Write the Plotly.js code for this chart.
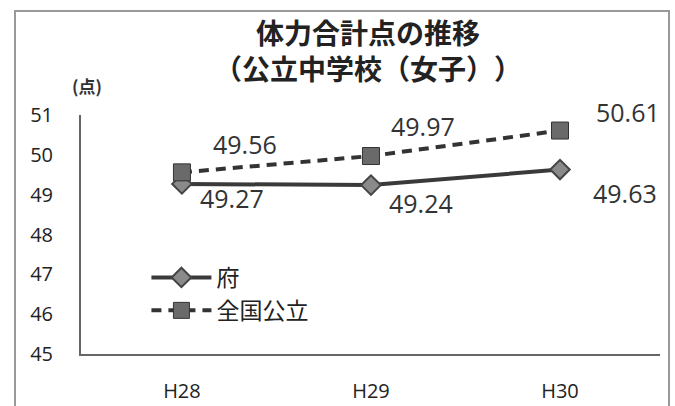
<!DOCTYPE html>
<html><head><meta charset="utf-8">
<script src="https://cdn.plot.ly/plotly-3.0.1.min.js"></script>
<style>html,body{margin:0;padding:0;background:#fff;}#wrap{position:relative;width:675px;height:406px;}#chart{width:675px;height:406px;}#frame{position:absolute;left:14px;top:10px;width:652px;height:400px;border:2px solid #999;pointer-events:none;}svg text{text-spacing-trim:space-all;}</style>
</head><body><div id="wrap"><div id="chart"></div><div id="frame"></div></div>
<script>
const categories = ["H28", "H29", "H30"];
const fuValues = [49.27, 49.24, 49.63];
const zenkokuValues = [49.56, 49.97, 50.61];
const seriesNames = ["府", "全国公立"];
const yTicks = [45, 46, 47, 48, 49, 50, 51];
const titleLines = ["体力合計点の推移", "（公立中学校（女子））"];
const yUnit = "(点)";

const F = "'Open Sans', 'Noto Sans CJK JP', sans-serif";
const J = "'Noto Sans CJK JP', sans-serif";

const traces = [
  {x: categories, y: fuValues, name: seriesNames[0], type: "scatter", mode: "lines+markers",
   line: {color: "#3a3a3a", width: 4},
   marker: {symbol: "diamond", size: 15, color: "#8a8a8a", line: {color: "#444", width: 2}}},
  {x: categories, y: zenkokuValues, name: seriesNames[1], type: "scatter", mode: "lines+markers",
   line: {color: "#333", width: 4, dash: "10px,7px"},
   marker: {symbol: "square", size: 17, color: "#6a6a6a", line: {color: "#333", width: 1}}}
];

const fuShift = [[50, -14], [50, -18], [65, -23]];
const zkShift = [[63, 28], [52, 30], [68, 19]];
const annotations = [];
categories.forEach((c, i) => {
  annotations.push({x: c, y: fuValues[i], xref: "x", yref: "y", text: fuValues[i].toFixed(2),
    showarrow: false, xshift: fuShift[i][0], yshift: fuShift[i][1], font: {family: F, size: 25, color: "#333"}});
  annotations.push({x: c, y: zenkokuValues[i], xref: "x", yref: "y", text: zenkokuValues[i].toFixed(2),
    showarrow: false, xshift: zkShift[i][0], yshift: zkShift[i][1], font: {family: F, size: 25, color: "#333"}});
});
annotations.push({xref: "paper", yref: "paper", x: 0.01, y: 1.125, xanchor: "center", yanchor: "middle",
  text: "<b>" + yUnit + "</b>", showarrow: false, font: {family: J, size: 17, color: "#333"}});
annotations.push({xref: "paper", yref: "paper", x: 0.4957, y: 1.27, xanchor: "center", yanchor: "middle",
  text: "<b>" + titleLines.join("<br>") + "</b>", showarrow: false, font: {family: J, size: 28, color: "#222"}});

const layout = {
  width: 675, height: 406,
  margin: {l: 81, r: 15, t: 115, b: 52},
  paper_bgcolor: "#fff", plot_bgcolor: "#fff",
  showlegend: true,
  legend: {x: 0.113, y: 0.41, xanchor: "left", yanchor: "top", bgcolor: "rgba(0,0,0,0)",
    font: {family: J, size: 23, color: "#222"}, tracegroupgap: 2, itemwidth: 60},
  xaxis: {type: "category", range: [-0.534, 2.529], showgrid: false, zeroline: false,
    showline: true, linecolor: "#666", linewidth: 2, ticks: "", ticklabelstandoff: 18,
    tickfont: {family: F, size: 20, color: "#222"}},
  yaxis: {range: [45, 51], tickvals: yTicks, showgrid: false, zeroline: false,
    showline: true, linecolor: "#666", linewidth: 2, ticks: "", ticklabelstandoff: 22,
    tickfont: {family: F, size: 20, color: "#222"}},
  annotations: annotations
};
Plotly.newPlot("chart", traces, layout, {displayModeBar: false, staticPlot: true});
</script></body></html>
